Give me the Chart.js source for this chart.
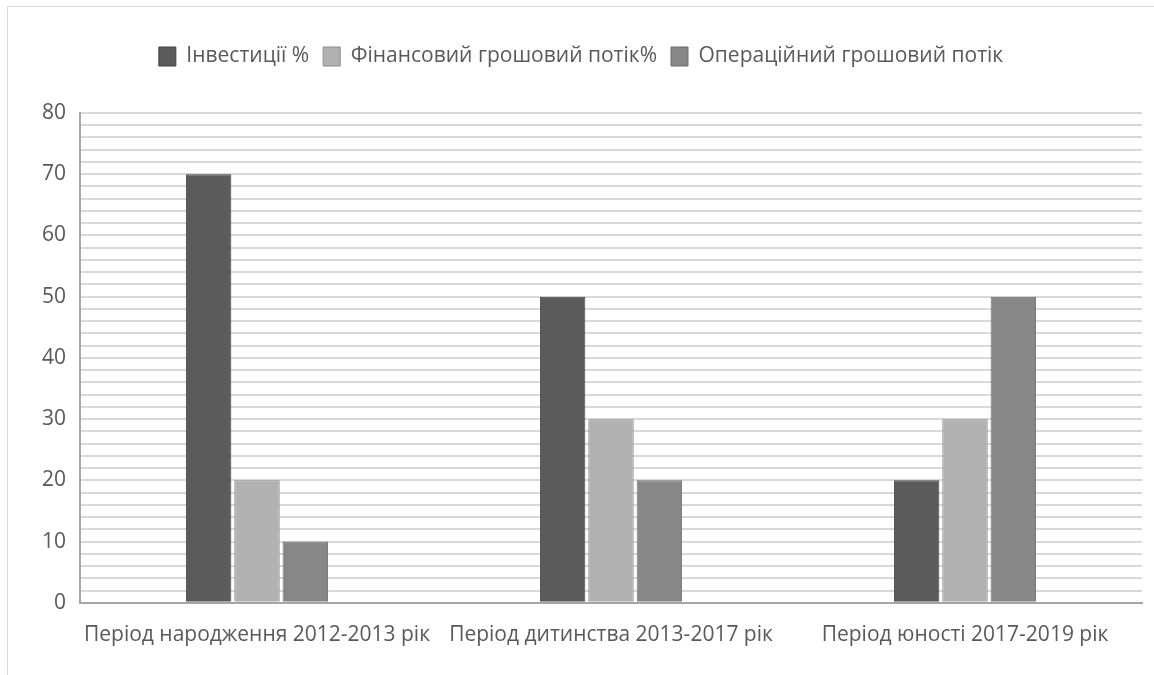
<!DOCTYPE html>
<html>
<head>
<meta charset="utf-8">
<script src="https://cdn.jsdelivr.net/npm/chart.js@4"></script>
<style>
  html, body { margin: 0; padding: 0; background: #fff; }
  #wrap { position: absolute; left: 0; top: 0; width: 1154px; height: 675px; }
  #frame { position: absolute; left: 7px; top: 6px; width: 1200px; height: 700px;
           border-left: 1px solid #d9d9d9; border-top: 1px solid #d9d9d9; }
  canvas { position: absolute; left: 0; top: 0; }
</style>
</head>
<body>
<div id="wrap">
  <div id="frame"></div>
  <canvas id="chart" width="1154" height="675"></canvas>
</div>
<script>
const categories = ['Період народження 2012-2013 рік', 'Період дитинства 2013-2017 рік', 'Період юності 2017-2019 рік'];
const investments = [70, 50, 20];
const financialFlow = [20, 30, 30];
const operatingFlow = [10, 20, 50];

const font = "'Open Sans', sans-serif";

// extra room below the legend
const legendGap = {
  id: 'legendGap',
  beforeInit(chart) {
    const fit = chart.legend.fit;
    chart.legend.fit = function () {
      fit.call(this);
      this.height += 36;
    };
  }
};

new Chart(document.getElementById('chart'), {
  type: 'bar',
  data: {
    labels: categories,
    datasets: [
      { label: 'Інвестиції %', data: investments, backgroundColor: '#5b5b5b', borderColor: '#444444', borderWidth: 1 },
      { label: 'Фінансовий грошовий потік%', data: financialFlow, backgroundColor: '#b1b1b1', borderColor: '#8c8c8c', borderWidth: 1 },
      { label: 'Операційний грошовий потік', data: operatingFlow, backgroundColor: '#878787', borderColor: '#6c6c6c', borderWidth: 1 }
    ]
  },
  options: {
    responsive: false,
    animation: false,
    datasets: { bar: { categoryPercentage: 0.41, barPercentage: 0.94 } },
    layout: { padding: { left: 20, right: 12, top: 32, bottom: 15 } },
    plugins: {
      tooltip: { enabled: false },
      legend: {
        position: 'top',
        labels: { boxWidth: 17, boxHeight: 19, padding: 14, color: '#595959', font: { family: font, size: 21 } }
      }
    },
    scales: {
      x: {
        grid: { display: false },
        border: { color: '#a6a6a6', width: 2 },
        ticks: { color: '#595959', font: { family: font, size: 21 }, padding: 12, maxRotation: 0, autoSkip: false }
      },
      y: {
        min: 0, max: 80,
        afterFit: (s) => { s.width = 60; },
        grid: { color: '#d9d9d9', lineWidth: 2, drawTicks: false },
        border: { color: '#a6a6a6', width: 2 },
        ticks: {
          stepSize: 2, autoSkip: false, padding: 14,
          color: '#595959', font: { family: font, size: 21 },
          callback: (v) => v % 10 === 0 ? v : ''
        }
      }
    }
  },
  plugins: [legendGap]
});
</script>
</body>
</html>
